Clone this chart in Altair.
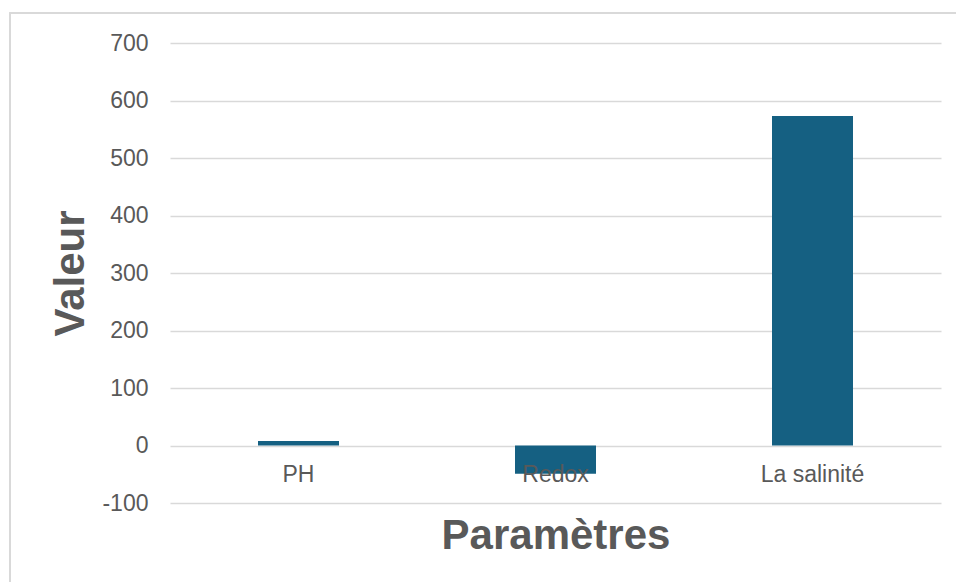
import altair as alt
import pandas as pd

# Measured parameters and their values
categories = ["PH", "Redox", "La salinité"]
values = [7.8, -49, 573]
y_ticks = [-100, 0, 100, 200, 300, 400, 500, 600, 700]

df = pd.DataFrame({"Paramètre": categories, "Valeur": values})

FONT = "Liberation Sans"
GREY = "#595959"
GRID = "#d9d9d9"
BAR = "#156082"

x_enc = alt.X(
    "Paramètre:N",
    sort=categories,
    scale=alt.Scale(paddingInner=0, paddingOuter=0),
    axis=alt.Axis(
        title="Paramètres",
        labels=False,
        ticks=False,
        domain=False,
        grid=False,
        titleFont=FONT,
        titleFontSize=42,
        titleFontWeight="bold",
        titleColor=GREY,
        titleBaseline="alphabetic",
        titlePadding=45,
    ),
)

y_scale = alt.Scale(domain=[-100, 700], nice=False, zero=False)

bars = alt.Chart(df).mark_bar(size=81, color=BAR).encode(
    x=x_enc,
    y=alt.Y(
        "Valeur:Q",
        scale=y_scale,
        axis=alt.Axis(
            title="Valeur",
            values=y_ticks,
            labelExpr="toString(datum.value)",
            ticks=False,
            domain=False,
            grid=True,
            gridColor=GRID,
            gridWidth=1.3,
            labelFont=FONT,
            labelFontSize=23,
            labelColor=GREY,
            labelPadding=22,
            titleFont=FONT,
            titleFontSize=42,
            titleFontWeight="bold",
            titleColor=GREY,
            titleAngle=270,
            titleAlign="center",
            titleBaseline="alphabetic",
            titleX=-87,
            titleY=230,
        ),
    ),
)

# Category names sit just under the zero line
labels = alt.Chart(df).mark_text(
    font=FONT, fontSize=23, color=GREY, baseline="alphabetic", dy=36
).encode(
    x=alt.X("Paramètre:N", sort=categories),
    y=alt.datum(0, scale=y_scale),
    text="Paramètre:N",
)

# Light outer frame around the chart
frame = alt.Chart(df).mark_rect(
    fill=None, stroke=GRID, strokeWidth=1.5
).encode(
    x=alt.value(-160),
    x2=alt.value(820),
    y=alt.value(-30),
    y2=alt.value(620),
)

chart = (
    alt.layer(frame, bars, labels)
    .properties(
        width=771,
        height=460,
        autosize=alt.AutoSizeParams(type="none"),
        padding={"left": 170, "top": 43, "right": 15, "bottom": 79},
        background="white",
    )
    .configure_view(stroke=None)
)

chart.save("out.html", embed_options={"renderer": "svg", "actions": False})
